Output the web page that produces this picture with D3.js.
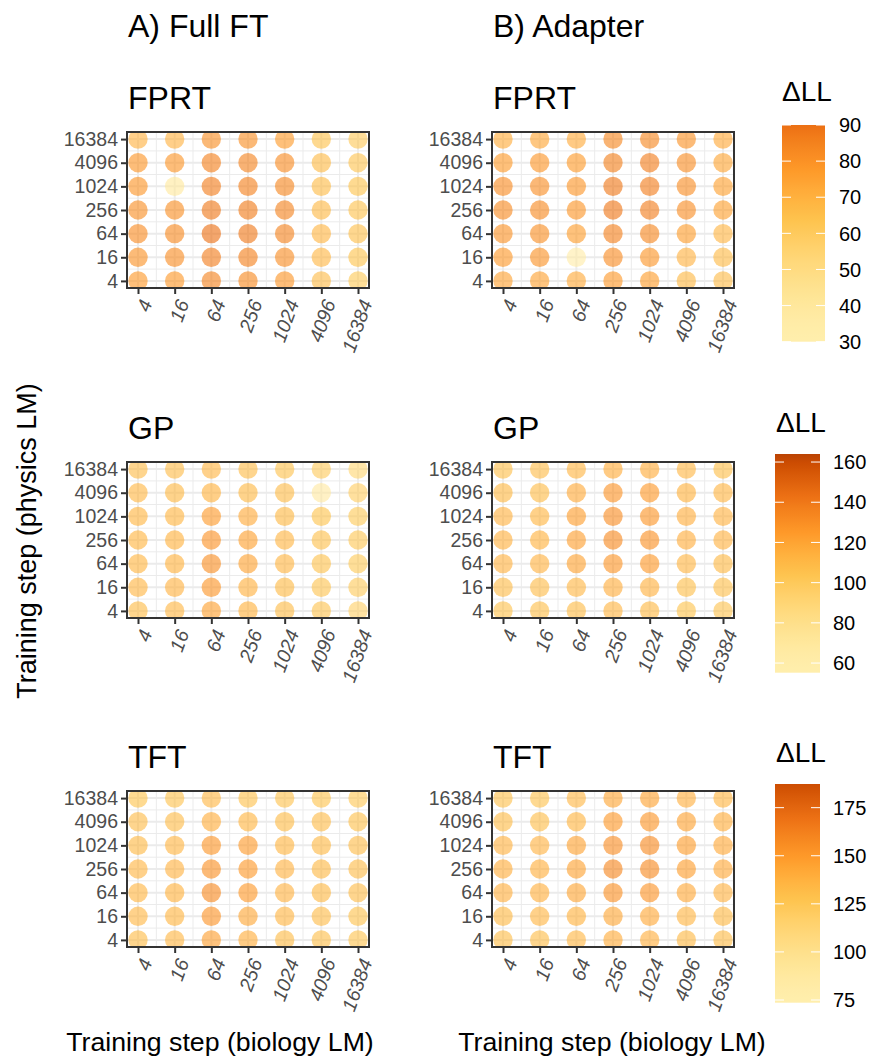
<!DOCTYPE html>
<html><head><meta charset="utf-8">
<script src="https://cdn.jsdelivr.net/npm/d3@7"></script>
<style>body{margin:0;background:#fff}svg{display:block;font-family:"Liberation Sans",Arial,sans-serif}</style>
</head><body>
<svg id="c" width="870" height="1062"></svg>
<script>
// ---------- data ----------
const steps = [4, 16, 64, 256, 1024, 4096, 16384];          // x (biology LM) and y (physics LM)
const tickLabels = ["4", "16", "64", "256", "1024", "4096", "16384"];
const methods = ["A) Full FT", "B) Adapter"];
const tasks = ["FPRT", "GP", "TFT"];
// rows: physics step 16384 (top) ... 4 (bottom); columns: biology step 4 ... 16384
const fprtFull = [
  [69.5, 69.5, 81, 81, 77.4, 64.5, 61],
  [78.8, 78.8, 85.3, 84.5, 81.9, 67.1, 63],
  [78.8, 40, 86.2, 85.3, 83.6, 66.5, 63.5],
  [81, 81, 87.9, 87.1, 84.5, 67.6, 64],
  [81.9, 82.8, 90, 87.9, 84.5, 68.6, 65],
  [80.2, 81.5, 86.2, 85.3, 81.5, 68.1, 63.5],
  [77.8, 78.3, 84.5, 82.8, 79.2, 66, 60.8]
];
const fprtAdapter = [
  [71.9, 74.2, 72.3, 83.6, 83.6, 80.2, 72.8],
  [77.4, 78.8, 77.4, 85.8, 86.2, 81.5, 74.2],
  [81.9, 81.5, 79.2, 87.9, 86.2, 81.5, 75.6],
  [82.8, 82.8, 79.2, 88.3, 86.2, 81.5, 75.6],
  [80.2, 81, 76.5, 85.3, 83.6, 76.5, 68.6],
  [77.8, 80.2, 34, 81.9, 79.2, 69.5, 67.1],
  [74.7, 74.7, 72.3, 78.3, 76.5, 67.6, 66]
];
const gpFull = [
  [108, 108, 111.7, 108, 105, 99.3, 89.6],
  [111, 110.3, 113.8, 110.3, 108, 67, 96.9],
  [112.4, 112.4, 124.6, 117.3, 110.3, 104.3, 100.4],
  [112.4, 113.8, 128.6, 122.1, 111.7, 105.8, 101.4],
  [112.4, 113.8, 130, 121.5, 111.7, 105, 100.4],
  [111.7, 113.1, 126.6, 114.5, 109.6, 103.5, 99.3],
  [108.8, 111, 122.1, 113.8, 108.8, 103.5, 94.6]
];
const gpAdapter = [
  [106.6, 108, 111.7, 116.6, 116.6, 111, 107.3],
  [110.3, 108.8, 117.3, 128, 125.9, 113.8, 111.7],
  [113.1, 112.4, 123.4, 130.6, 127.3, 115.9, 113.1],
  [114.5, 113.8, 122.7, 132.6, 129.3, 115.9, 113.1],
  [113.1, 113.1, 121.5, 127.3, 125.3, 111.7, 110.3],
  [108, 108, 111, 115.9, 114.5, 106.6, 106.6],
  [105, 106.6, 108.8, 111.7, 110.3, 104.3, 103.5]
];
const tftFull = [
  [127.3, 128.1, 134.7, 129, 128.1, 127.3, 124.1],
  [131.4, 131.4, 140, 136.1, 132.3, 131.4, 129],
  [133.9, 135.4, 152.4, 149.4, 136.1, 133.9, 131.4],
  [135.4, 136.9, 154.5, 150.1, 136.9, 133.9, 131.4],
  [136.1, 137.7, 158, 150.8, 136.9, 133.9, 131.4],
  [134.7, 136.1, 153.1, 142.9, 135.4, 131.4, 128.1],
  [132.3, 134.7, 147.3, 140, 132.3, 129.8, 126.4]
];
const tftAdapter = [
  [129, 128.1, 134.7, 143.6, 145.2, 138.5, 136.1],
  [132.3, 130.6, 136.1, 150.1, 152.4, 145.9, 140],
  [136.9, 136.9, 145.2, 156, 158, 148.1, 142.2],
  [140, 139.2, 145.9, 159.5, 158, 148.1, 142.2],
  [138.5, 139.2, 144.4, 154.5, 153.1, 142.2, 136.9],
  [133.9, 135.4, 137.7, 142.9, 142.2, 135.4, 133.9],
  [130.6, 130.6, 134.7, 140.7, 138.5, 133.9, 132.3]
];
const fprtRange = [30, 90], gpRange = [55.2, 164], tftRange = [73.6, 187.3];
const fprtLegendTicks = [30, 40, 50, 60, 70, 80, 90];
const gpLegendTicks = [60, 80, 100, 120, 140, 160];
const tftLegendTicks = [75, 100, 125, 150, 175];
const palette = ["#ffffd4", "#fee391", "#fec44f", "#fe9929", "#ec7014", "#cc4c02", "#8c2d04"]; // YlOrBr

// ---------- layout ----------
const svg = d3.select("#c");
const colLeft = [127, 492], panelW = 242;
const rowTop = [132, 462, 791], panelH = 156;
const legendCfg = [
  {range: fprtRange, ticks: fprtLegendTicks, t: [0.1, 0.667], x: 782, w: 43, titleX: 782, titleY: 101, labX: 839, top: 125, bottom: 341.7},
  {range: gpRange, ticks: gpLegendTicks, t: [0.1, 0.88], x: 775, w: 45, titleX: 776, titleY: 432, labX: 833, top: 454, bottom: 672.7},
  {range: tftRange, ticks: tftLegendTicks, t: [0.1, 0.83], x: 775, w: 45, titleX: 776, titleY: 762, labX: 833, top: 784, bottom: 1002.7}
];
const panelData = [[fprtFull, fprtAdapter], [gpFull, gpAdapter], [tftFull, tftAdapter]];
const interp = d3.piecewise(d3.interpolateLab, palette);
function makeColor(cfg) {
  const norm = d3.scaleLinear().domain(cfg.range).range([0, 1]).clamp(true);
  return v => interp(cfg.t[0] + (cfg.t[1] - cfg.t[0]) * Math.pow(norm(v), 1.5));
}

const defs = svg.append("defs");

// column titles
methods.forEach((m, c) => {
  svg.append("text").attr("x", colLeft[c] + 1).attr("y", 37).attr("font-size", 32).attr("fill", "#000").text(m);
});

tasks.forEach((task, r) => {
  const cfg = legendCfg[r];
  const color = makeColor(cfg);
  for (let c = 0; c < 2; c++) {
    const x0 = colLeft[c], y0 = rowTop[r];
    const g = svg.append("g").attr("transform", `translate(${x0},${y0})`);
    const pad = Math.log2(16384 / 4) * 0.05;
    const dom = [4 / Math.pow(2, pad), 16384 * Math.pow(2, pad)];
    const x = d3.scaleLog().base(2).domain(dom).range([0, panelW]);
    const y = d3.scaleLog().base(2).domain(dom).range([panelH, 0]);

    // row title
    svg.append("text").attr("x", x0 + 1).attr("y", y0 - 23).attr("font-size", 32).attr("fill", "#000").text(task);

    // grid
    const minor = d3.pairs(steps).map(([a, b]) => Math.sqrt(a * b));
    g.selectAll(".gmx").data(minor).join("line").attr("x1", d => x(d)).attr("x2", d => x(d)).attr("y1", 0).attr("y2", panelH)
      .attr("stroke", "#EBEBEB").attr("stroke-width", 1);
    g.selectAll(".gmy").data(minor).join("line").attr("y1", d => y(d)).attr("y2", d => y(d)).attr("x1", 0).attr("x2", panelW)
      .attr("stroke", "#EBEBEB").attr("stroke-width", 1);
    g.selectAll(".gx").data(steps).join("line").attr("x1", d => x(d)).attr("x2", d => x(d)).attr("y1", 0).attr("y2", panelH)
      .attr("stroke", "#EBEBEB").attr("stroke-width", 2);
    g.selectAll(".gy").data(steps).join("line").attr("y1", d => y(d)).attr("y2", d => y(d)).attr("x1", 0).attr("x2", panelW)
      .attr("stroke", "#EBEBEB").attr("stroke-width", 2);

    // points
    const cid = `clip${r}${c}`;
    defs.append("clipPath").attr("id", cid).append("rect").attr("width", panelW).attr("height", panelH);
    const mat = panelData[r][c];
    const pts = [];
    const yRows = steps.slice().reverse();
    mat.forEach((row, i) => row.forEach((v, j) => pts.push({xs: steps[j], ys: yRows[i], v})));
    g.append("g").attr("clip-path", `url(#${cid})`).selectAll("circle").data(pts).join("circle")
      .attr("cx", d => x(d.xs)).attr("cy", d => y(d.ys)).attr("r", 9.7)
      .attr("fill", d => color(d.v)).attr("fill-opacity", 0.62);

    // border
    g.append("rect").attr("width", panelW).attr("height", panelH).attr("fill", "none").attr("stroke", "#333").attr("stroke-width", 2);

    // axes
    const yAxis = d3.axisLeft(y).tickValues(steps).tickFormat((d, i) => tickLabels[i]).tickSize(6).tickPadding(3);
    const ya = g.append("g").call(yAxis);
    ya.select(".domain").remove();
    ya.selectAll("line").attr("stroke", "#333").attr("stroke-width", 2);
    ya.selectAll("text").attr("font-size", 19.5).attr("fill", "#4D4D4D").attr("font-family", '"Liberation Sans",Arial,sans-serif');

    const xAxis = d3.axisBottom(x).tickValues(steps).tickFormat((d, i) => tickLabels[i]).tickSize(6);
    const xa = g.append("g").attr("transform", `translate(0,${panelH})`).call(xAxis);
    xa.select(".domain").remove();
    xa.selectAll("line").attr("stroke", "#333").attr("stroke-width", 2);
    xa.selectAll("text").attr("font-size", 19.5).attr("fill", "#4D4D4D").attr("font-style", "italic")
      .attr("font-family", '"Liberation Sans",Arial,sans-serif')
      .attr("text-anchor", "end").attr("y", 0).attr("dy", "0.72em")
      .attr("transform", "translate(1,10) rotate(-70)");
  }

  // legend
  const gid = `grad${r}`;
  const grad = defs.append("linearGradient").attr("id", gid).attr("x1", 0).attr("x2", 0).attr("y1", 1).attr("y2", 0);
  d3.range(0, 1.0001, 0.02).forEach(f => {
    const v = cfg.range[0] + f * (cfg.range[1] - cfg.range[0]);
    grad.append("stop").attr("offset", f).attr("stop-color", color(v));
  });
  svg.append("text").attr("x", cfg.titleX).attr("y", cfg.titleY).attr("font-size", 28).attr("fill", "#000").text("ΔLL");
  const ly = d3.scaleLinear().domain(cfg.range).range([cfg.bottom, cfg.top]);
  svg.append("rect").attr("x", cfg.x).attr("y", cfg.top).attr("width", cfg.w).attr("height", cfg.bottom - cfg.top).attr("fill", `url(#${gid})`);
  const lg = svg.append("g");
  cfg.ticks.forEach(t => {
    const yy = ly(t);
    lg.append("line").attr("x1", cfg.x).attr("x2", cfg.x + 9).attr("y1", yy).attr("y2", yy).attr("stroke", "#fff").attr("stroke-width", 1);
    lg.append("line").attr("x1", cfg.x + cfg.w - 9).attr("x2", cfg.x + cfg.w).attr("y1", yy).attr("y2", yy).attr("stroke", "#fff").attr("stroke-width", 1);
    lg.append("text").attr("x", cfg.labX).attr("y", yy).attr("dy", "0.36em").attr("font-size", 20).attr("fill", "#000").text(t);
  });
});

// axis titles
svg.append("text").attr("transform", "translate(36,541) rotate(-90)").attr("text-anchor", "middle").attr("font-size", 27).attr("fill", "#000")
  .text("Training step (physics LM)");
[220, 612].forEach(cx => {
  svg.append("text").attr("x", cx).attr("y", 1051).attr("text-anchor", "middle").attr("font-size", 26.7).attr("fill", "#000")
    .text("Training step (biology LM)");
});
</script>
</body></html>
